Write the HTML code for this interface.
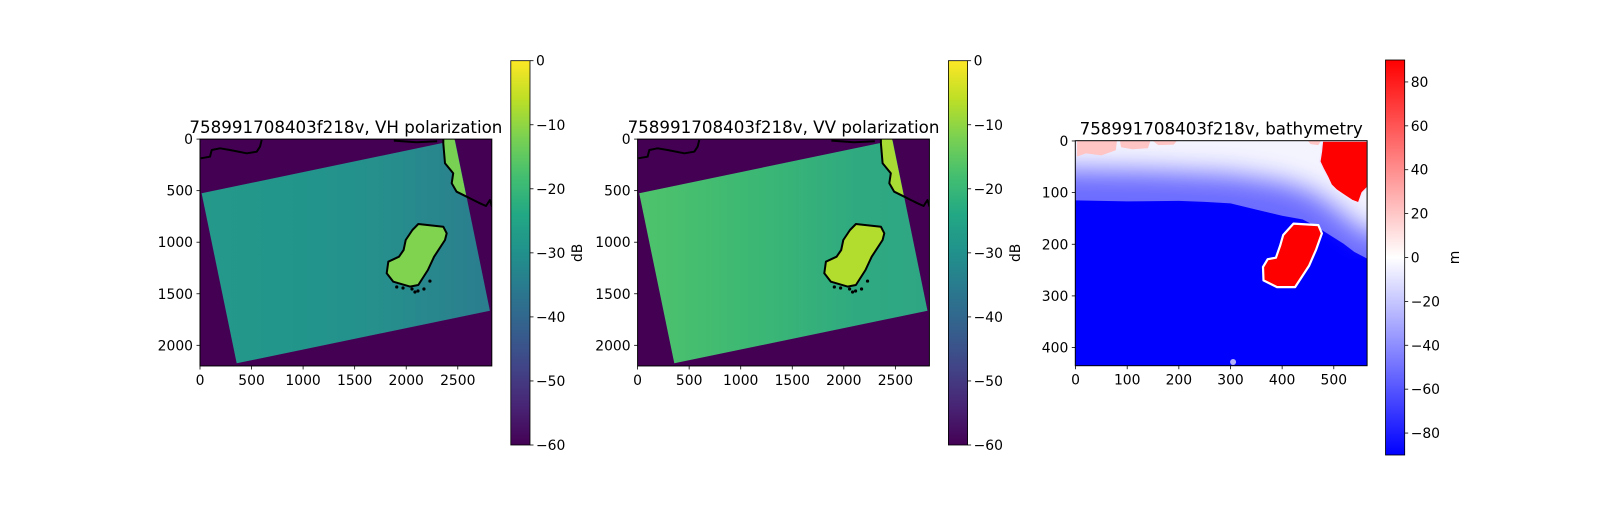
<!DOCTYPE html>
<html><head><meta charset="utf-8">
<style>
html,body{margin:0;padding:0;background:#fff;}
svg text{font-family:"DejaVu Sans","Liberation Sans",sans-serif;fill:#000;}
</style></head>
<body>
<svg id="fig" width="1600" height="500" xmlns="http://www.w3.org/2000/svg">
<defs>
<linearGradient id="viridis" x1="0" y1="1" x2="0" y2="0">
<stop offset="0" stop-color="#440154"/><stop offset="0.1" stop-color="#482475"/><stop offset="0.2" stop-color="#414487"/><stop offset="0.3" stop-color="#355f8d"/><stop offset="0.4" stop-color="#2a788e"/><stop offset="0.5" stop-color="#21918c"/><stop offset="0.6" stop-color="#22a884"/><stop offset="0.7" stop-color="#44bf70"/><stop offset="0.8" stop-color="#7ad151"/><stop offset="0.9" stop-color="#bddf26"/><stop offset="1" stop-color="#fde725"/>
</linearGradient>
<linearGradient id="bwr" x1="0" y1="1" x2="0" y2="0">
<stop offset="0" stop-color="#0000ff"/><stop offset="0.5" stop-color="#ffffff"/><stop offset="1" stop-color="#ff0000"/>
</linearGradient>
<linearGradient id="swathVH" x1="0" y1="0" x2="1" y2="0">
<stop offset="0" stop-color="#24998a"/><stop offset="0.35" stop-color="#22958b"/><stop offset="0.6" stop-color="#25908c"/><stop offset="1" stop-color="#2b7d8e"/>
</linearGradient>
<linearGradient id="swathVV" x1="0" y1="0" x2="1" y2="0">
<stop offset="0" stop-color="#4fc36b"/><stop offset="0.4" stop-color="#3cb874"/><stop offset="0.75" stop-color="#2faa80"/><stop offset="1" stop-color="#2ea683"/>
</linearGradient>
<filter id="blur" x="-20%" y="-20%" width="140%" height="140%"><feGaussianBlur stdDeviation="13"/></filter>
<clipPath id="clip1"><rect x="200" y="139.1" width="291.8" height="226.8"/></clipPath>
<clipPath id="clip2"><rect x="637.6" y="139.1" width="291.8" height="226.8"/></clipPath>
<clipPath id="clip3"><rect x="1075.3" y="140.7" width="291.8" height="225"/></clipPath>
</defs>
<g id="layer"></g>
</svg>
<script>
// ---- data ----
const xTicksSar = [0, 500, 1000, 1500, 2000, 2500];
const yTicksSar = [0, 500, 1000, 1500, 2000];
const xTicksBathy = [0, 100, 200, 300, 400, 500];
const yTicksBathy = [0, 100, 200, 300, 400];
const cbarDbTicks = [0, -10, -20, -30, -40, -50, -60];
const cbarDbRange = [-60, 0];
const cbarMTicks = [80, 60, 40, 20, 0, -20, -40, -60, -80];
const cbarMRange = [-90, 90];
const sarCols = 2830, sarRows = 2200;
const bathyCols = 565, bathyRows = 436;
// shapes in data (col,row) units
const swathCorners = [[16,526],[2473,13],[2812,1664],[356,2174]];
const islandSar = [[2117,823],[2360,850],[2393,914],[2376,979],[2270,1141],[2210,1270],[2117,1415],[2037,1431],[1875,1383],[1811,1302],[1826,1189],[1930,1141],[1975,1076],[1995,979],[2060,882]];
const coastLandSar = [[2360,0],[2360,41],[2376,235],[2456,332],[2441,429],[2489,510],[2584,559],[2468,0]];
const coastLineSar = [[2360,0],[2360,41],[2376,235],[2456,332],[2441,429],[2489,510],[2587,559],[2651,591],[2716,623],[2774,649],[2812,591],[2832,656]];
const coastTopLeft = [[7,186],[97,171],[113,106],[194,89],[291,106],[453,138],[550,122],[582,74],[598,9]];
const coastTopMid = [[1880,15],[2100,30],[2300,20]];
const dotsSar = [[1908,1434],[1969,1444],[2056,1454],[2114,1473],[2172,1454],[2085,1483],[2230,1377]];
const bandBathy = [[0,0],[565,0],[565,228],[540,215],[519,199],[487,179],[465,165],[440,152],[400,145],[350,133],[300,121],[250,118],[200,116],[100,117],[0,115]];
const whiteBathy = [[-60,-60],[625,-60],[625,180],[565,180],[540,160],[500,128],[460,100],[400,80],[300,65],[150,58],[0,55],[-60,55]];
const landBathy = [[478,0],[565,0],[565,90],[555,100],[548,120],[535,115],[520,105],[505,95],[495,85],[488,70],[480,55],[473,40],[476,20]];
const islandBathy = [[422,160],[470,163],[477,179],[466,210],[452,242],[425,283],[390,283],[364,270],[363,244],[372,229],[388,226],[396,203],[402,182]];
const pinkPatches = [
  [[3,0],[80,0],[78,18],[50,28],[20,24],[3,30]],
  [[86,0],[145,0],[140,14],[110,16],[88,12]],
  [[150,0],[196,0],[190,7],[160,8]],
  [[450,0],[475,0],[470,8],[455,6]]
];

// ---- geometry ----
const NS = "http://www.w3.org/2000/svg";
const layer = document.getElementById('layer');
function el(tag, attrs, parent) {
  const e = document.createElementNS(NS, tag);
  for (const k in attrs) e.setAttribute(k, attrs[k]);
  (parent || layer).appendChild(e);
  return e;
}
const sarScale = 291.8 / sarCols;
function makeSarAxis(x0) {
  return { sx: c => x0 + c * sarScale, sy: r => 139.1 + r * sarScale, x0: x0, y0: 139.1, w: 291.8, h: sarRows * sarScale };
}
const bScale = 291.8 / bathyCols;
const bAx = { sx: c => 1075.3 + (c + 0.5) * bScale, sy: r => 140.7 + (r + 0.5) * bScale, x0: 1075.3, y0: 140.7, w: 291.8, h: 225 };
function pts(ax, arr) { return arr.map(p => ax.sx(p[0]).toFixed(1) + ',' + ax.sy(p[1]).toFixed(1)).join(' '); }

function frame(ax) {
  const f = el('rect', {x: ax.x0, y: ax.y0, width: ax.w, height: ax.h, fill: 'none', stroke: '#000', 'stroke-width': 1});
  
  
}
function ticks(ax, xt, yt, sxT, syT) {
  const bottom = ax.y0 + ax.h;
  xt.forEach(v => {
    const x = sxT(v);
    const t = el('line', {x1: x, y1: bottom, x2: x, y2: bottom + 3.5, stroke: '#000', 'stroke-width': 0.8});
    
    
    const l = el('text', {x: x, y: bottom + 19, 'font-size': 13.9, 'text-anchor': 'middle'});
    l.textContent = v;
    
    
  });
  yt.forEach(v => {
    const y = syT(v);
    const t = el('line', {x1: ax.x0 - 3.5, y1: y, x2: ax.x0, y2: y, stroke: '#000', 'stroke-width': 0.8});
    
    
    const l = el('text', {x: ax.x0 - 7, y: y + 5, 'font-size': 13.9, 'text-anchor': 'end'});
    l.textContent = v;
    
    
  });
}
function title(ax, txt) {
  const t = el('text', {x: ax.x0 + ax.w / 2, y: ax.y0 - 6, 'font-size': 16.7, 'text-anchor': 'middle'});
  t.textContent = txt;
  
  
}
function colorbar(x, top, bottom, grad, tickVals, range, label, labelX) {
  const w = 19.2;
  const r = el('rect', {x: x, y: top, width: w, height: bottom - top, fill: 'url(#' + grad + ')', stroke: '#000', 'stroke-width': 0.8});
  
  
  const cy = v => bottom - (v - range[0]) / (range[1] - range[0]) * (bottom - top);
  tickVals.forEach(v => {
    const y = cy(v);
    const t = el('line', {x1: x + w, y1: y, x2: x + w + 3.5, y2: y, stroke: '#000', 'stroke-width': 0.8});
    
    
    const l = el('text', {x: x + w + 6, y: y + 5, 'font-size': 13.9});
    l.textContent = v < 0 ? '\u2212' + Math.abs(v) : String(v);
    
    
  });
  const ly = (top + bottom) / 2;
  const lb = el('text', {x: labelX, y: ly, 'font-size': 13.9, 'text-anchor': 'middle', transform: 'rotate(-90 ' + labelX + ' ' + ly + ')'});
  lb.textContent = label;
  
  
}

function sarPanel(x0, clipId, swathFill, islandFill, landFill, name) {
  const ax = makeSarAxis(x0);
  const g = el('g', {'clip-path': 'url(#' + clipId + ')'});
  
  
  const bg = el('rect', {x: ax.x0, y: ax.y0, width: ax.w, height: ax.h, fill: '#440154'}, g);
  
  
  const sw = el('polygon', {points: pts(ax, swathCorners), fill: swathFill}, g);
  
  
  const land = el('polygon', {points: pts(ax, coastLandSar), fill: landFill}, g);
  
  
  const isl = el('polygon', {points: pts(ax, islandSar), fill: islandFill, stroke: '#000', 'stroke-width': 2, 'stroke-linejoin': 'round'}, g);
  
  
  [coastLineSar, coastTopLeft, coastTopMid].forEach(line => {
    const c = el('polyline', {points: pts(ax, line), fill: 'none', stroke: '#000', 'stroke-width': 2, 'stroke-linejoin': 'round'}, g);
    
    
  });
  dotsSar.forEach(p => {
    const d = el('circle', {cx: ax.sx(p[0]), cy: ax.sy(p[1]), r: 1.6, fill: '#000'}, g);
    
    
  });
  frame(ax);
  ticks(ax, xTicksSar, yTicksSar, ax.sx, ax.sy);
  return ax;
}

const ax1 = sarPanel(200, 'clip1', 'url(#swathVH)', '#7fd34e', '#78d152', 'vh');
title(ax1, '758991708403f218v, VH polarization');
colorbar(510.8, 60.7, 445, 'viridis', cbarDbTicks, cbarDbRange, 'dB', 582);

const ax2 = sarPanel(637.6, 'clip2', 'url(#swathVV)', '#b2dd2f', '#a8db34', 'vv');
title(ax2, '758991708403f218v, VV polarization');
colorbar(948.4, 60.7, 445, 'viridis', cbarDbTicks, cbarDbRange, 'dB', 1020);

// bathymetry panel
(function () {
  const ax = bAx;
  const g = el('g', {'clip-path': 'url(#clip3)'});
  
  
  const bg = el('rect', {x: ax.x0, y: ax.y0, width: ax.w, height: ax.h, fill: '#0000ff'}, g);
  
  
  const band = el('polygon', {points: pts(ax, bandBathy), fill: '#6c6cff'}, g);
  
  
  const wh = el('polygon', {points: pts(ax, whiteBathy), fill: '#f4f4ff', filter: 'url(#blur)'}, g);
  
  
  pinkPatches.forEach(p => {
    const pk = el('polygon', {points: pts(ax, p), fill: '#ffc4c4'}, g);
    
    
  });
  const land = el('polygon', {points: pts(ax, landBathy), fill: '#ff0000', stroke: '#f0e8ff', 'stroke-width': 1.5}, g);
  
  
  const isl = el('polygon', {points: pts(ax, islandBathy), fill: '#ff0000', stroke: '#ffffff', 'stroke-width': 2.2, 'stroke-linejoin': 'round'}, g);
  
  
  const sm = el('circle', {cx: ax.sx(305), cy: ax.sy(428), r: 3, fill: '#b0b0ff'}, g);
  
  
  frame(ax);
  ticks(ax, xTicksBathy, yTicksBathy, ax.sx, ax.sy);
  title(ax, '758991708403f218v, bathymetry');
})();
colorbar(1385.5, 60, 455, 'bwr', cbarMTicks, cbarMRange, 'm', 1459);
</script>
</body></html>
